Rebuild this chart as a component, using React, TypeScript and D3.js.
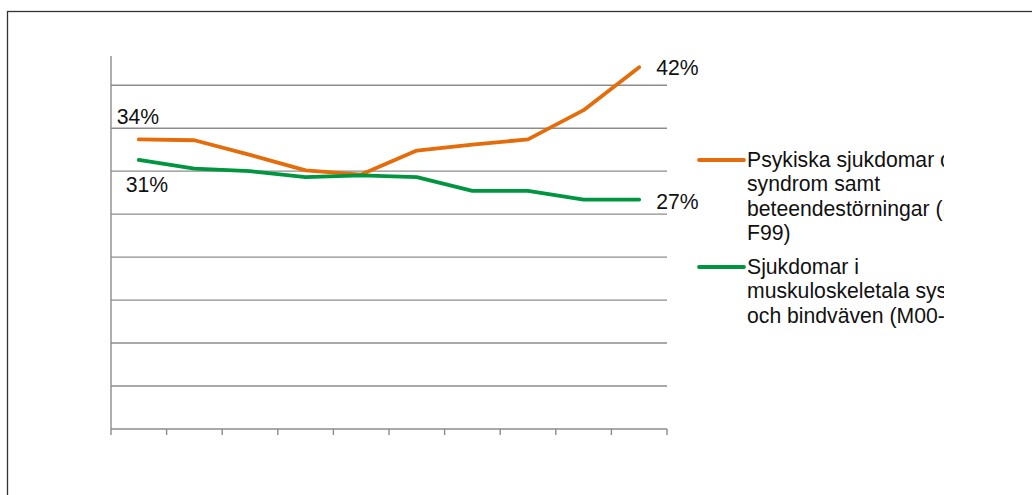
import React from "react";
import * as d3 from "d3";

const categories = ["1", "2", "3", "4", "5", "6", "7", "8", "9", "10"];
const psykiska = [33.7, 33.6, 31.9, 30.1, 29.6, 32.4, 33.1, 33.7, 37.1, 42.1];
const muskulo = [31.3, 30.3, 30.0, 29.3, 29.5, 29.3, 27.7, 27.7, 26.7, 26.7];
const gridTicks = [5, 10, 15, 20, 25, 30, 35, 40];
const yMax = 43.4;

const legendPsyk = ["Psykiska sjukdomar och", "syndrom samt", "beteendestörningar (F00-", "F99)"];
const legendMusk = ["Sjukdomar i", "muskuloskeletala systemet", "och bindväven (M00-"];

const ORANGE = "#E46C0A";
const GREEN = "#00963F";
const GRID = "#8c8c8c";
const FONT = "'Liberation Sans', Arial, sans-serif";

export default function App() {
  const W = 1032, H = 495;
  const left = 111, right = 667, top = 56, bottom = 429;
  const x = d3.scaleBand<string>().domain(categories).range([left, right]).padding(0);
  const y = d3.scaleLinear().domain([0, yMax]).range([bottom, top]);
  const cx = (c: string) => (x(c) as number) + x.bandwidth() / 2;

  const line = d3
    .line<number>()
    .x((_, i) => cx(categories[i]))
    .y((d) => y(d));

  const n = categories.length;
  const fmt = (v: number) => `${Math.round(v)}%`;
  const FS = 21.2;

  const labels = [
    { v: psykiska[0], c: categories[0], dx: -22, dy: -15 },
    { v: muskulo[0], c: categories[0], dx: -13, dy: 32 },
    { v: psykiska[n - 1], c: categories[n - 1], dx: 17, dy: 8 },
    { v: muskulo[n - 1], c: categories[n - 1], dx: 17, dy: 9 },
  ];

  const boundaries = [...categories.map((c) => x(c) as number), right];

  return (
    <svg
      width={W}
      height={H}
      style={{ position: "absolute", left: 0, top: 0, background: "#fff" }}
      fontFamily={FONT}
    >
      <defs>
        <clipPath id="legclip">
          <rect x={690} y={130} width={254} height={220} />
        </clipPath>
      </defs>
      <rect x={7.5} y={11.5} width={1100} height={600} fill="#fff" stroke="#333" strokeWidth={1.3} />

      {gridTicks.map((t) => (
        <line key={t} x1={left} x2={right} y1={y(t)} y2={y(t)} stroke={GRID} strokeWidth={1.4} />
      ))}
      <line x1={left} x2={left} y1={y(0)} y2={y(yMax)} stroke={GRID} strokeWidth={1.4} />
      <line x1={left} x2={right} y1={y(0)} y2={y(0)} stroke={GRID} strokeWidth={1.4} />
      {boundaries.map((b, i) => (
        <line key={i} x1={b} x2={b} y1={y(0)} y2={y(0) + 6} stroke={GRID} strokeWidth={1.4} />
      ))}

      <path d={line(psykiska) || ""} fill="none" stroke={ORANGE} strokeWidth={3.8} strokeLinecap="round" strokeLinejoin="round" />
      <path d={line(muskulo) || ""} fill="none" stroke={GREEN} strokeWidth={3.8} strokeLinecap="round" strokeLinejoin="round" />

      {labels.map((l, i) => (
        <text key={i} x={cx(l.c) + l.dx} y={y(l.v) + l.dy} fontSize={FS} fill="#111">
          {fmt(l.v)}
        </text>
      ))}

      <g clipPath="url(#legclip)">
        <line x1={699} x2={744} y1={160} y2={160} stroke={ORANGE} strokeWidth={3.8} strokeLinecap="round" />
        {legendPsyk.map((t, i) => (
          <text key={t} x={747} y={167 + i * 24.3} fontSize={FS} fill="#111">
            {t}
          </text>
        ))}
        <line x1={699} x2={744} y1={267} y2={267} stroke={GREEN} strokeWidth={3.8} strokeLinecap="round" />
        {legendMusk.map((t, i) => (
          <text key={t} x={747} y={274 + i * 24.3} fontSize={FS} fill="#111">
            {t}
          </text>
        ))}
      </g>
    </svg>
  );
}
